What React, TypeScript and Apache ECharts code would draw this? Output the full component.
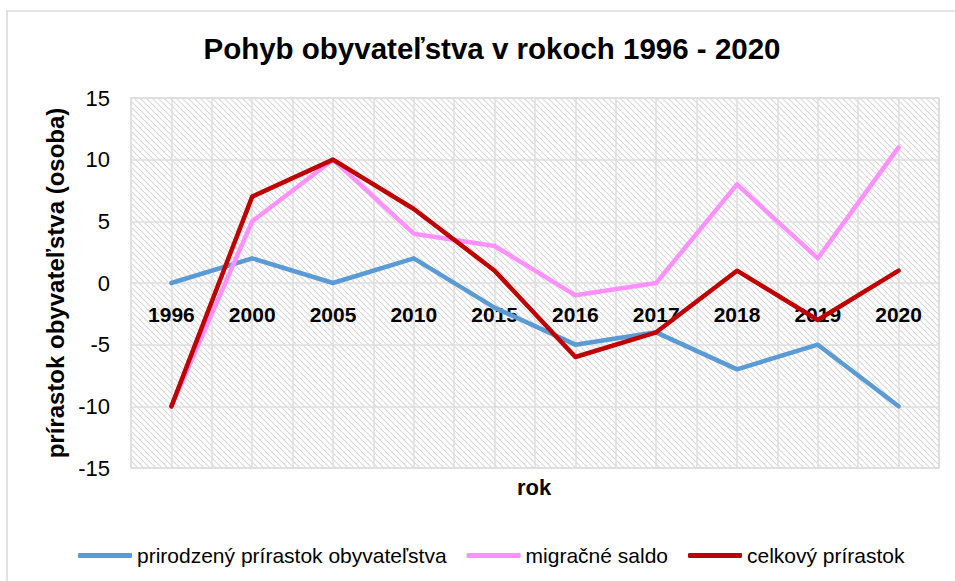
import React, { useEffect, useRef } from "react";
import * as echarts from "echarts";

const categories = ["1996", "2000", "2005", "2010", "2015", "2016", "2017", "2018", "2019", "2020"];
const prirodzeny = [0, 2, 0, 2, -2, -5, -4, -7, -5, -10];
const migracne = [-10, 5, 10, 4, 3, -1, 0, 8, 2, 11];
const celkovy = [-10, 7, 10, 6, 1, -6, -4, 1, -3, 1];
const seriesNames = ["prirodzený prírastok obyvateľstva", "migračné saldo", "celkový prírastok"];
const seriesColors = ["#5B9BD5", "#FF91FF", "#C00000"];
const titleText = "Pohyb obyvateľstva v rokoch 1996 - 2020";
const yName = "prírastok obyvateľstva (osoba)";
const xName = "rok";
const xAxisCrossValue = 0;

const FONT = "'Liberation Sans', Arial, sans-serif";

function makeHatch(): HTMLCanvasElement {
  const c = document.createElement("canvas");
  const s = 6;
  c.width = s;
  c.height = s;
  const ctx = c.getContext("2d")!;
  ctx.fillStyle = "#ffffff";
  ctx.fillRect(0, 0, s, s);
  ctx.strokeStyle = "#d9d9d9";
  ctx.lineWidth = 1.2;
  for (const k of [-s, 0, s]) {
    ctx.beginPath();
    ctx.moveTo(k, 0);
    ctx.lineTo(k + s, s);
    ctx.stroke();
  }
  return c;
}

export default function App() {
  const ref = useRef<HTMLDivElement>(null);
  useEffect(() => {
    if (!ref.current) return;
    const chart = echarts.init(ref.current, null, { renderer: "svg" });
    const hatch = makeHatch();
    const data = [prirodzeny, migracne, celkovy];
    chart.setOption({
      animation: false,
      backgroundColor: "#ffffff",
      textStyle: { fontFamily: FONT },
      title: {
        text: titleText,
        left: 487,
        textAlign: "center",
        top: 28,
        textStyle: { fontFamily: FONT, fontSize: 29.5, fontWeight: "bold", color: "#000" },
      },
      legend: {
        left: 73,
        top: 540,
        itemWidth: 54,
        itemHeight: 5,
        itemGap: 20,
        icon: "roundRect",
        textStyle: { fontFamily: FONT, fontSize: 21, color: "#000" },
        data: seriesNames,
      },
      grid: {
        left: 131,
        right: 16,
        top: 98,
        bottom: 113,
        show: true,
        borderColor: "#d9d9d9",
        borderWidth: 1.5,
        backgroundColor: { image: hatch, repeat: "repeat", imageWidth: 6, imageHeight: 6 } as any,
      },
      xAxis: [
        {
          type: "category",
          data: categories,
          boundaryGap: true,
          axisLine: { show: false },
          axisTick: { show: false },
          splitLine: { show: false },
          axisLabel: { show: false },
        },
        {
          type: "value",
          min: 0,
          max: 20,
          interval: 1,
          position: "top",
          axisLine: { show: false, onZero: false },
          axisTick: { show: false },
          axisLabel: { show: false },
          splitLine: { show: true, lineStyle: { color: "#dedede", width: 1.5 } },
        },
      ],
      yAxis: {
        type: "value",
        min: -15,
        max: 15,
        interval: 5,
        name: yName,
        nameLocation: "middle",
        nameRotate: 90,
        nameGap: 61,
        nameTextStyle: { fontFamily: FONT, fontSize: 24, fontWeight: "bold", color: "#000" },
        axisLine: { show: false, onZero: false },
        axisTick: { show: false },
        axisLabel: { margin: 21, fontFamily: FONT, fontSize: 22, color: "#000" },
        splitLine: { show: true, lineStyle: { color: "#dedede", width: 1.5 } },
      },
      graphic: [
        {
          type: "rect",
          shape: { x: 7, y: 11, width: 970, height: 600 },
          style: { fill: "none", stroke: "#d9d9d9", lineWidth: 1.5 },
          silent: true,
        },
        {
          type: "text",
          x: 534,
          y: 487,
          style: {
            text: xName,
            fontFamily: FONT,
            fontSize: 22,
            fontWeight: "bold",
            fill: "#000",
            textAlign: "center",
            textVerticalAlign: "middle",
          },
        },
      ],
      series: [
        ...seriesNames.map((name, i) => ({
          name,
          type: "line",
          data: data[i],
          xAxisIndex: 0,
          yAxisIndex: 0,
          symbol: "none",
          smooth: false,
          lineStyle: { color: seriesColors[i], width: 4.5, cap: "round", join: "round" },
          itemStyle: { color: seriesColors[i] },
          z: 5 + i,
        })),
        {
          name: "categoryLabels",
          type: "scatter",
          xAxisIndex: 0,
          yAxisIndex: 0,
          data: categories.map((c, i) => ({ name: c, value: [i, xAxisCrossValue] })),
          symbol: "circle",
          symbolSize: 2,
          itemStyle: { color: "rgba(255,255,255,0)" },
          silent: true,
          z: 4,
          label: {
            show: true,
            position: "bottom",
            distance: 20,
            formatter: "{b}",
            fontFamily: FONT,
            fontSize: 21,
            fontWeight: "bold",
            color: "#000000",
            opacity: 1,
            textBorderWidth: 0,
            textBorderColor: "transparent",
            textShadowBlur: 0,
          },
        },
      ],
    });
    return () => chart.dispose();
  }, []);
  return (
    <div
      ref={ref}
      style={{ position: "absolute", left: 0, top: 0, width: 955, height: 581 }}
    />
  );
}
